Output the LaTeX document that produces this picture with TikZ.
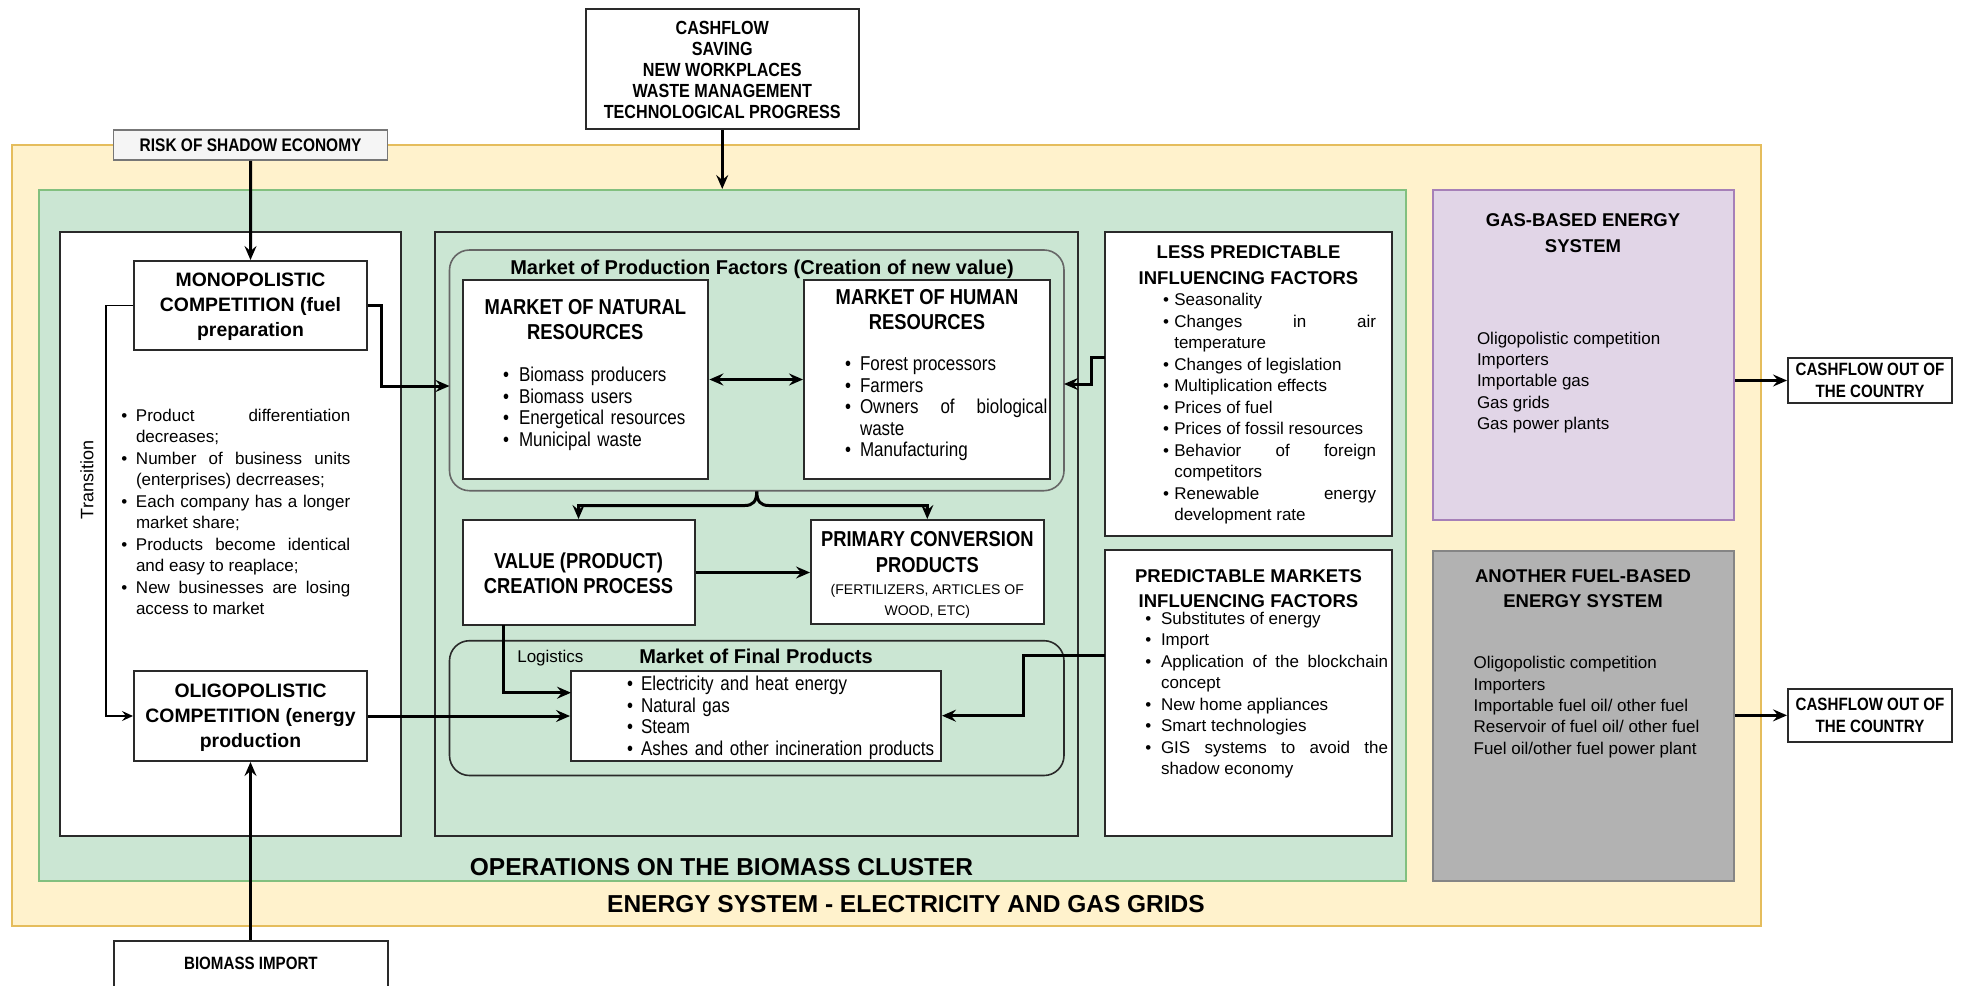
\documentclass[tikz,border=0pt]{standalone}
\usepackage{fontspec}
\setmainfont{Liberation Sans}
\newfontfamily\narrowf{Liberation Sans}[FakeStretch=0.85]
\usetikzlibrary{arrows.meta,fit}
\definecolor{yel}{HTML}{FFF2CC}
\definecolor{yelb}{HTML}{E5BD5C}
\definecolor{grn}{HTML}{CBE6D3}
\definecolor{grnb}{HTML}{82C07F}
\definecolor{pur}{HTML}{E1D5E7}
\definecolor{purb}{HTML}{A680B8}
\definecolor{gry}{HTML}{B2B2B2}
\definecolor{gryb}{HTML}{858585}
\definecolor{riskf}{HTML}{F5F5F5}
\definecolor{riskb}{HTML}{777777}
\definecolor{ln}{HTML}{2A2A2A}
\tolerance=10000
\hbadness=10000
\hyphenpenalty=10000
\newlength\bind
\newcommand\bi[1]{\par\noindent\hangindent\bind\hangafter1\hbox to\bind{\textbullet\hss}#1}
\newcommand\Fbody{\fontsize{8.5}{10.75}\selectfont}
\newcommand\Ftitle{\bfseries\fontsize{9.25}{12.75}\selectfont}
\newcommand\Fcomp{\bfseries\fontsize{9.7}{12.5}\selectfont}
\newcommand\Fnar{\narrowf\fontsize{10}{10.75}\selectfont}
\newcommand\Fnart{\narrowf\bfseries\fontsize{10.8}{12.5}\selectfont}
\newcommand\Fsm{\narrowf\bfseries\fontsize{8.9}{11.35}\selectfont}
\newcommand\Fbig{\bfseries\fontsize{12.25}{14}\selectfont}
\begin{document}
\begin{tikzpicture}[x=0.5pt,y=-0.5pt,
  box/.style={draw=ln, line width=1pt, fill=white, inner sep=0pt},
  arr/.style={draw=black, line width=1.5pt, -{Stealth[length=7pt,width=6pt,inset=2.5pt]}},
  darr/.style={draw=black, line width=1.5pt, {Stealth[length=7pt,width=6pt,inset=2.5pt]}-{Stealth[length=7pt,width=6pt,inset=2.5pt]}},
  tarr/.style={draw=black, line width=0.8pt, -{Stealth[length=5.5pt,width=5pt,inset=2pt]}},
  txt/.style={inner sep=0pt, outer sep=0pt},
]
\useasboundingbox (0,0) rectangle (1963,985);
\fill[white] (0,0) rectangle (1963,985);
\clip (0,0) rectangle (1963,985);

% outer frames
\node[fit={(11.5,145) (1761,926)}, inner sep=0pt, draw=yelb, fill=yel, line width=1pt] (yellow) {};
\node[fit={(39,190) (1405.5,880.7)}, inner sep=0pt, draw=grnb, fill=grn, line width=1pt] (green) {};

% top boxes
\node[box, fit={(585.5,9.3) (859,129.3)}] (cash) {};
\node[txt, align=center, font=\narrowf\bfseries\fontsize{9.5}{10.55}\selectfont] (cashtxt) at (722.25,70)
  {CASHFLOW\\SAVING\\NEW WORKPLACES\\WASTE MANAGEMENT\\TECHNOLOGICAL PROGRESS};
\node[fit={(113.7,130) (387.5,160)}, inner sep=0pt, draw=riskb, fill=riskf, line width=0.75pt] (risk) {};
\node[txt, font=\narrowf\bfseries\fontsize{9.1}{10}\selectfont] (risktxt) at (250.6,145) {RISK OF SHADOW ECONOMY};

% left white block
\node[box, fit={(59.5,232) (401,835.7)}] (leftblk) {};
\node[box, fit={(134,261) (367,350)}] (mono) {};
\node[txt, align=center, font=\Fcomp] (monotxt) at (250.5,307) {MONOPOLISTIC\\COMPETITION (fuel\\preparation};
\node[box, fit={(134,671) (367,761)}] (oligo) {};
\node[txt, align=center, font=\Fcomp] (oligotxt) at (250.5,717.5) {OLIGOPOLISTIC\\COMPETITION (energy\\production};
\node[txt, rotate=90, font=\fontsize{9}{10}\selectfont] (trans) at (87,480) {Transition};
\node[txt, anchor=north west, text width=114.5pt, align=justify, font=\Fbody] (leftlist) at (121.3,399.5) {\setlength\bind{7.35pt}%
\bi{Product differentiation\linebreak decreases;}%
\bi{Number of business units\linebreak (enterprises) decrreases;}%
\bi{Each company has a longer\linebreak market share;}%
\bi{Products become identical\linebreak and easy to reaplace;}%
\bi{New businesses are losing\linebreak access to market}\par};

% biomass import
\node[box, fit={(114,940.7) (387.7,1010)}] (bio) {};
\node[txt, anchor=base, font=\Fsm] (biotxt) at (250.9,969.5) {BIOMASS IMPORT};

% center block
\node[box, fit={(435,232) (1078,835.5)}, fill=grn] (center) {};
\node[fit={(449.5,250) (1064,490.7)}, inner sep=0pt, draw=black!60, line width=0.8pt, rounded corners=10pt] (pf) {};
\node[txt, anchor=base, font=\bfseries\fontsize{10}{12}\selectfont] (pftitle) at (762,274) {Market of Production Factors (Creation of new value)};
\node[box, fit={(462.5,280) (708.4,479)}] (nat) {};
\node[txt, anchor=north, align=center, font=\Fnart] (nattitle) at (585.3,299) {MARKET OF NATURAL\\RESOURCES};
\node[txt, anchor=north west, text width=100pt, align=left, font=\Fnar] (natlist) at (503,360) {\setlength\bind{8pt}%
\bi{Biomass producers}%
\bi{Biomass users}%
\bi{Energetical resources}%
\bi{Municipal waste}\par};
\node[box, fit={(804,280) (1050,479)}] (hum) {};
\node[txt, anchor=north, align=center, font=\Fnart] (humtitle) at (927,289) {MARKET OF HUMAN\\RESOURCES};
\node[txt, anchor=north west, text width=101.25pt, align=justify, font=\Fnar] (humlist) at (845,349) {\setlength\bind{7.5pt}%
\bi{Forest processors}%
\bi{Farmers}%
\bi{Owners of biological\linebreak waste}%
\bi{Manufacturing}\par};

\node[box, fit={(462.5,520) (694.5,625)}] (val) {};
\node[txt, align=center, font=\Fnart] (valtxt) at (578.5,573) {VALUE (PRODUCT)\\CREATION PROCESS};
\node[box, fit={(811,520) (1043.6,624)}] (prim) {};
\node[txt, anchor=north, align=center, font=\narrowf\bfseries\fontsize{10.8}{13}\selectfont] (primtitle) at (927.3,531) {PRIMARY CONVERSION\\PRODUCTS};
\node[txt, anchor=north, align=center, font=\fontsize{7}{10.85}\selectfont] (primsub) at (927.3,584) {(FERTILIZERS, ARTICLES OF\\WOOD, ETC)};

\node[fit={(449.5,640.7) (1064,775.5)}, inner sep=0pt, draw=ln, line width=0.8pt, rounded corners=10pt] (fp) {};
\node[txt, anchor=base, font=\bfseries\fontsize{10}{12}\selectfont] (fptitle) at (756,663) {Market of Final Products};
\node[txt, anchor=base, font=\Fbody] (logi) at (550.4,662) {Logistics};
\node[box, fit={(571,670.7) (941,760.7)}] (fin) {};
\node[txt, anchor=north west, text width=170pt, align=left, font=\Fnar] (finlist) at (627,669) {\setlength\bind{7pt}%
\bi{Electricity and heat energy}%
\bi{Natural gas}%
\bi{Steam}%
\bi{Ashes and other incineration products}\par};

% right factor boxes
\node[box, fit={(1105,231.5) (1392,535.7)}] (less) {};
\node[txt, anchor=north, align=center, font=\Ftitle] (lesstitle) at (1248.5,245.8) {LESS PREDICTABLE\\INFLUENCING FACTORS};
\node[txt, anchor=north west, text width=106.5pt, align=justify, font=\Fbody] (lesslist) at (1163,284) {\setlength\bind{5.65pt}%
\bi{Seasonality}%
\bi{Changes in air\linebreak temperature}%
\bi{Changes of legislation}%
\bi{Multiplication effects}%
\bi{Prices of fuel}%
\bi{Prices of fossil resources}%
\bi{Behavior of foreign\linebreak competitors}%
\bi{Renewable energy\linebreak development rate}\par};
\node[box, fit={(1105,550) (1392,835.5)}] (pred) {};
\node[txt, anchor=north, align=center, font=\Ftitle] (predtitle) at (1248.5,569.3) {PREDICTABLE MARKETS\\INFLUENCING FACTORS};
\node[txt, anchor=north west, text width=121.35pt, align=justify, font=\Fbody] (predlist) at (1145.3,602.5) {\setlength\bind{7.85pt}%
\bi{Substitutes of energy}%
\bi{Import}%
\bi{Application of the blockchain\linebreak concept}%
\bi{New home appliances}%
\bi{Smart technologies}%
\bi{GIS systems to avoid the\linebreak shadow economy}\par};

% energy systems
\node[fit={(1433,190) (1734,520)}, inner sep=0pt, draw=purb, fill=pur, line width=1pt] (gas) {};
\node[txt, anchor=north, align=center, font=\Ftitle\fontsize{9.25}{13}\selectfont] (gastitle) at (1583,213.3) {GAS-BASED ENERGY\\SYSTEM};
\node[txt, anchor=north west, align=left, font=\fontsize{8.5}{10.65}\selectfont] (gaslist) at (1477,332) {Oligopolistic competition\\Importers\\Importable gas\\Gas grids\\Gas power plants};
\node[fit={(1433,550.7) (1734,880.7)}, inner sep=0pt, draw=gryb, fill=gry, line width=1pt] (oth) {};
\node[txt, anchor=north, align=center, font=\Ftitle] (othtitle) at (1583,569.3) {ANOTHER FUEL-BASED\\ENERGY SYSTEM};
\node[txt, anchor=north west, align=left, font=\fontsize{8.5}{10.65}\selectfont] (othlist) at (1473.6,656.6) {Oligopolistic competition\\Importers\\Importable fuel oil/ other fuel\\Reservoir of fuel oil/ other fuel\\Fuel oil/other fuel power plant};

\node[box, fit={(1788,358) (1952,403)}] (out1) {};
\node[txt, align=center, font=\Fsm] (out1txt) at (1870,380.5) {CASHFLOW OUT OF\\THE COUNTRY};
\node[box, fit={(1788,689) (1952,741.7)}] (out2) {};
\node[txt, align=center, font=\Fsm] (out2txt) at (1870,715.4) {CASHFLOW OUT OF\\THE COUNTRY};

% big labels
\node[txt, anchor=base, font=\Fbig] (opslbl) at (721.5,875.5) {OPERATIONS ON THE BIOMASS CLUSTER};
\node[txt, anchor=base, font=\Fbig] (enlbl) at (906,912) {ENERGY SYSTEM - ELECTRICITY AND GAS GRIDS};

% coordinates for connector ends
\coordinate (pfin) at (449.5,386);
\coordinate (lg) at (503.7,625);
\coordinate (lgend) at (571,692.7);
\coordinate (l1) at (1105,357);
\coordinate (l2) at (1064,384);
\coordinate (p1) at (1105,655);

% connectors
\draw[arr] (risk.south) -- (mono.north);
\draw[arr] (cash.south) -- (cash.south |- green.north);
\draw[arr] (mono.east) -- ++(13,0) |- (pfin);
\draw[tarr] (mono.west) -- ++(-27,0) |- (oligo.west);
\draw[arr] (oligo.east) -- (oligo.east -| fin.west);
\draw[arr] (oligo.south |- bio.north) -- (oligo.south);
\draw[darr] (nat.east) -- (hum.west);
\draw[arr] (pf.south) .. controls +(0,10) and +(8,0) .. ++(-12,14) -| (val.north);
\draw[arr] (pf.south) .. controls +(0,10) and +(-8,0) .. ++(12,14) -| (prim.north);
\draw[arr] (val.east) -- (val.east -| prim.west);
\draw[arr] (lg) |- (lgend);
\draw[arr] (l1) -- ++(-14,0) |- (l2);
\draw[arr] (p1) -- ++(-82,0) |- (fin.east);
\draw[arr] (out1.west -| gas.east) -- (out1.west);
\draw[arr] (oth.east |- out2.west) -- (out2.west);
\end{tikzpicture}
\end{document}
